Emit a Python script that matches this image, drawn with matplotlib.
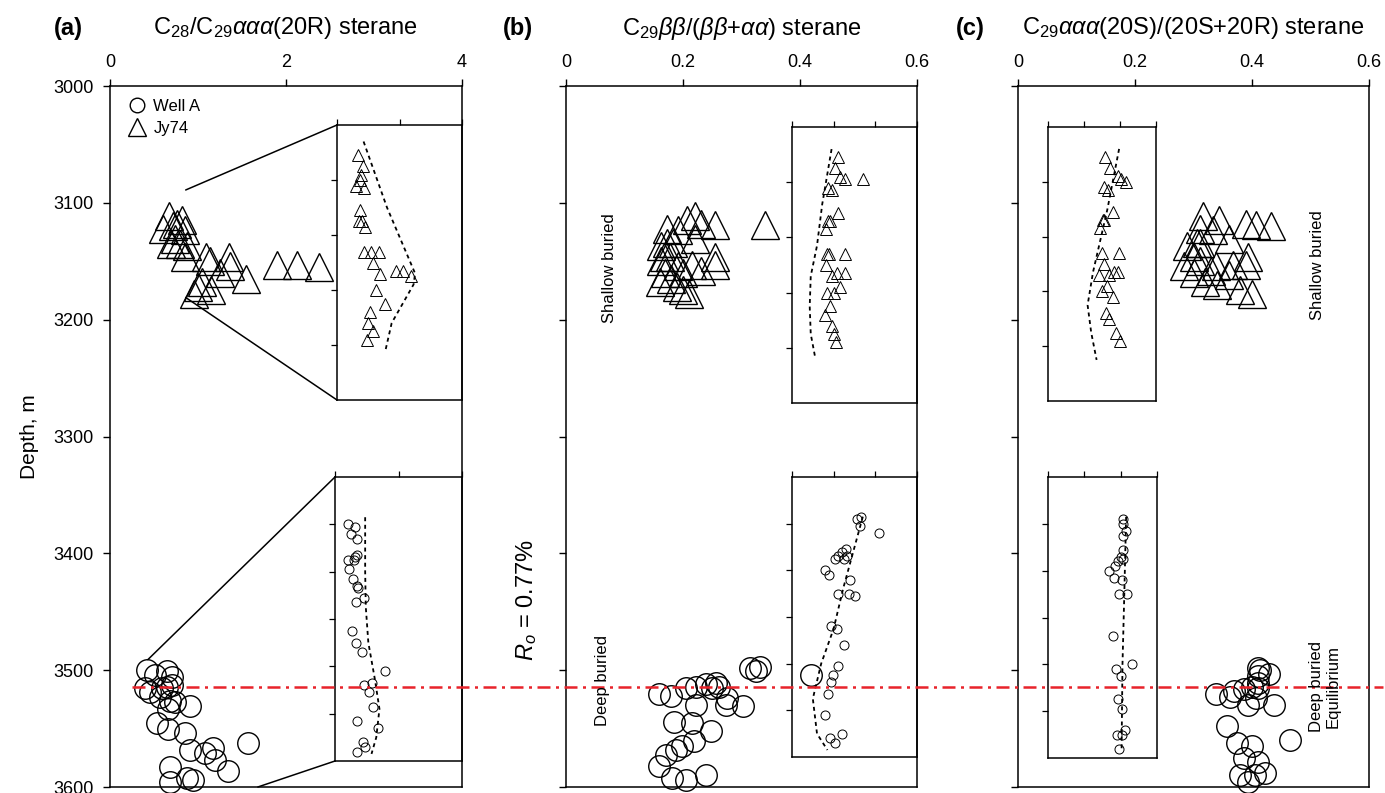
import matplotlib
matplotlib.use("Agg")
import matplotlib.pyplot as plt
from matplotlib.lines import Line2D
from matplotlib.patches import ConnectionPatch

plt.rcParams['font.family'] = ['Liberation Sans', 'DejaVu Sans']
plt.rcParams['mathtext.fontset'] = 'custom'
plt.rcParams['mathtext.rm'] = 'Liberation Sans'
plt.rcParams['mathtext.it'] = 'Liberation Sans:italic'
plt.rcParams['mathtext.bf'] = 'Liberation Sans:bold'

# ---------------- data ----------------
# (a) C28/C29 aaa(20R)
a_jy_val = [0.67, 0.82, 0.76, 0.72, 0.60, 0.85, 0.74, 0.69, 0.80, 0.88, 0.85, 1.09, 1.35,
            1.14, 1.36, 1.90, 2.12, 2.37, 1.25, 1.55, 1.05, 1.00, 0.95, 1.15]
a_jy_dep = [3111, 3115, 3118, 3120, 3122, 3123, 3131, 3135, 3135, 3137, 3146, 3146, 3146,
            3150, 3154, 3153, 3153, 3155, 3160, 3165, 3168, 3172, 3178, 3175]
a_wa_val = [0.417, 0.511, 0.644, 0.701, 0.398, 0.455, 0.588, 0.644, 0.701, 0.568, 0.682,
            0.739, 0.663, 0.909, 0.531, 0.659, 0.852, 0.909, 1.08, 1.17, 1.19, 1.34, 1.57,
            0.682, 0.682, 0.872, 0.943]
a_wa_dep = [3500, 3504, 3501, 3506, 3515, 3519, 3515, 3514, 3513, 3523, 3526, 3527, 3533,
            3531, 3545, 3550, 3554, 3568, 3571, 3567, 3577, 3586, 3562, 3583, 3596, 3592, 3594]
a_trend_top_val = [0.85, 1.6, 2.5, 2.45, 2.1, 1.75, 1.55]
a_trend_top_dep = [3106, 3130, 3154, 3158, 3165, 3172, 3182]
a_trend_bot_val = [0.95, 0.95, 0.97, 1.05, 1.25, 1.4, 1.3, 1.15]
a_trend_bot_dep = [3497, 3520, 3535, 3550, 3565, 3578, 3590, 3597]

# (b) C29 bb/(bb+aa)
b_jy_val = [0.221, 0.207, 0.231, 0.255, 0.341, 0.173, 0.192, 0.221, 0.183, 0.173, 0.163,
            0.168, 0.178, 0.255, 0.163, 0.192, 0.216, 0.255, 0.17, 0.20, 0.23, 0.18, 0.16,
            0.19, 0.21, 0.20]
b_jy_dep = [3111, 3115, 3118, 3119, 3119, 3122, 3123, 3131, 3134, 3134, 3137, 3146, 3146,
            3146, 3150, 3154, 3153, 3153, 3160, 3160, 3158, 3165, 3168, 3172, 3178, 3175]
b_wa_val = [0.159, 0.179, 0.205, 0.222, 0.240, 0.257, 0.262, 0.250, 0.276, 0.274, 0.302,
            0.222, 0.185, 0.216, 0.248, 0.219, 0.199, 0.188, 0.171, 0.159, 0.182, 0.205,
            0.240, 0.314, 0.331, 0.325, 0.418]
b_wa_dep = [3520, 3522, 3515, 3514, 3512, 3511, 3514, 3515, 3524, 3530, 3531, 3530, 3544,
            3545, 3552, 3561, 3565, 3568, 3573, 3582, 3592, 3594, 3590, 3498, 3497, 3501, 3504]
b_trend_top_val = [0.19, 0.145, 0.12, 0.09, 0.085, 0.09, 0.11]
b_trend_top_dep = [3108, 3128, 3143, 3154, 3165, 3175, 3183]
b_trend_bot_val = [0.34, 0.245, 0.20, 0.14, 0.10, 0.12, 0.17]
b_trend_bot_dep = [3497, 3528, 3545, 3560, 3575, 3590, 3597]

# (c) C29 aaa 20S/(20S+20R)
c_jy_val = [0.317, 0.344, 0.389, 0.406, 0.433, 0.311, 0.333, 0.361, 0.311, 0.306, 0.289,
            0.300, 0.394, 0.311, 0.339, 0.367, 0.389, 0.283, 0.30, 0.33, 0.36, 0.32, 0.38,
            0.40, 0.34]
c_jy_dep = [3111, 3115, 3118, 3119, 3120, 3122, 3123, 3131, 3134, 3134, 3137, 3146, 3146,
            3150, 3154, 3153, 3153, 3154, 3160, 3158, 3162, 3168, 3175, 3178, 3170]
c_wa_val = [0.411, 0.414, 0.429, 0.411, 0.411, 0.400, 0.411, 0.387, 0.369, 0.338, 0.363,
            0.407, 0.393, 0.437, 0.375, 0.400, 0.387, 0.410, 0.379, 0.405, 0.393, 0.422,
            0.465, 0.358]
c_wa_dep = [3498, 3500, 3503, 3505, 3511, 3514, 3515, 3516, 3518, 3520, 3523, 3524, 3530,
            3530, 3562, 3565, 3575, 3579, 3590, 3590, 3596, 3588, 3560, 3548]
c_trend_top_val = [0.395, 0.33, 0.25, 0.22, 0.24, 0.27]
c_trend_top_dep = [3108, 3130, 3153, 3165, 3175, 3185]
c_trend_bot_val = [0.43, 0.42, 0.41, 0.405]
c_trend_bot_dep = [3497, 3530, 3560, 3597]

ro_depth = 3514

titles = [r'C$_{28}$/C$_{29}$$\alpha\alpha\alpha$(20R) sterane',
          r'C$_{29}$$\beta\beta$/($\beta\beta$+$\alpha\alpha$) sterane',
          r'C$_{29}$$\alpha\alpha\alpha$(20S)/(20S+20R) sterane']
panel_tags = ['(a)', '(b)', '(c)']

# ---------------- layout ----------------
W, H = 1385, 793
fig = plt.figure(figsize=(W / 100, H / 100), dpi=100)


def px_axes(x0, y0, x1, y1):
    return fig.add_axes([x0 / W, 1 - y1 / H, (x1 - x0) / W, (y1 - y0) / H])


def style_main(ax, xmax, xticks, xlabels, ylabels):
    ax.set_xlim(0, xmax)
    ax.set_ylim(3600, 3000)
    ax.xaxis.tick_top()
    ax.set_xticks(xticks)
    ax.set_xticklabels(xlabels)
    ax.set_yticks(range(3000, 3601, 100))
    if not ylabels:
        ax.set_yticklabels([])
    ax.tick_params(axis='x', direction='out', length=5, width=1, pad=6, labelsize=13)
    ax.tick_params(axis='y', direction='out', length=5, width=1, pad=7, labelsize=13)
    for s in ax.spines.values():
        s.set_linewidth(1.1)


def style_inset(ax, xmax, xticks, ylim, yticks):
    ax.set_xlim(0, xmax)
    ax.set_ylim(*ylim)
    ax.patch.set_alpha(0)
    ax.xaxis.tick_top()
    ax.set_xticks(xticks)
    ax.set_xticklabels([])
    ax.set_yticks(yticks)
    ax.set_yticklabels([])
    ax.tick_params(direction='out', length=4, width=0.9)
    for s in ax.spines.values():
        s.set_linewidth(1.1)


mk = dict(linestyle='none', mfc='none', mec='black')
trend_kw = dict(color='black', lw=1.3, linestyle=(0, (2.2, 2.0)))

ax_a = px_axes(110, 86, 462, 787)
ax_b = px_axes(566, 86, 917, 787)
ax_c = px_axes(1018, 86, 1369, 787)

style_main(ax_a, 4, [0, 2, 4], ['0', '2', '4'], True)
style_main(ax_b, 0.6, [0, 0.2, 0.4, 0.6], ['0', '0.2', '0.4', '0.6'], False)
style_main(ax_c, 0.6, [0, 0.2, 0.4, 0.6], ['0', '0.2', '0.4', '0.6'], False)
ax_a.set_ylabel('Depth, m', fontsize=15, labelpad=10)

panels = [
    (ax_a, a_jy_val, a_jy_dep, a_wa_val, a_wa_dep),
    (ax_b, b_jy_val, b_jy_dep, b_wa_val, b_wa_dep),
    (ax_c, c_jy_val, c_jy_dep, c_wa_val, c_wa_dep),
]
for ax, jv, jd, wv, wd in panels:
    ax.plot(jv, jd, marker='^', ms=20, mew=1.0, clip_on=False, **mk)
    ax.plot(wv, wd, marker='o', ms=15.5, mew=1.0, clip_on=False, **mk)

# insets
ins_a_top = px_axes(337, 125, 462, 400)
ins_a_bot = px_axes(335, 477, 462, 761)
ins_b_top = px_axes(792, 127, 917, 403)
ins_b_bot = px_axes(792, 477, 917, 757)
ins_c_top = px_axes(1048, 127, 1156, 401)
ins_c_bot = px_axes(1048, 477, 1157, 758)

top_lim, top_ticks = (3200, 3100), [3120, 3140, 3160, 3180]
bot_lim, bot_ticks = (3600, 3480), [3500, 3520, 3540, 3560, 3580]

insets = [
    (ins_a_top, 4, [0, 2, 4], top_lim, top_ticks, a_jy_val, a_jy_dep, '^', a_trend_top_val, a_trend_top_dep),
    (ins_a_bot, 4, [0, 2, 4], bot_lim, bot_ticks, a_wa_val, a_wa_dep, 'o', a_trend_bot_val, a_trend_bot_dep),
    (ins_b_top, 0.6, [0, 0.2, 0.4, 0.6], top_lim, top_ticks, b_jy_val, b_jy_dep, '^', b_trend_top_val, b_trend_top_dep),
    (ins_b_bot, 0.6, [0, 0.2, 0.4, 0.6], bot_lim, bot_ticks, b_wa_val, b_wa_dep, 'o', b_trend_bot_val, b_trend_bot_dep),
    (ins_c_top, 0.6, [0, 0.2, 0.4, 0.6], top_lim, top_ticks, c_jy_val, c_jy_dep, '^', c_trend_top_val, c_trend_top_dep),
    (ins_c_bot, 0.6, [0, 0.2, 0.4, 0.6], bot_lim, bot_ticks, c_wa_val, c_wa_dep, 'o', c_trend_bot_val, c_trend_bot_dep),
]
for ax, xmax, xt, ylim, yt, v, d, m, tv, td in insets:
    style_inset(ax, xmax, xt, ylim, yt)
    ms = 8.3 if m == '^' else 6.5
    ax.plot(v, d, marker=m, ms=ms, mew=0.7, **mk)
    ax.plot(tv, td, **trend_kw)

# connectors from the (a) data clusters to their enlarged views
for xyA, xyB, inset in [((0.86, 3089), (0, 1), ins_a_top),
                        ((0.86, 3181), (0, 0), ins_a_top),
                        ((0.43, 3491), (0, 1), ins_a_bot),
                        ((1.68, 3600), (0, 0), ins_a_bot)]:
    con = ConnectionPatch(xyA=xyA, coordsA=ax_a.transData, xyB=xyB,
                          coordsB=inset.transAxes, color='black', lw=1.1)
    fig.add_artist(con)

# legend
handles = [Line2D([], [], marker='o', ms=10.5, mew=1.0, **mk),
           Line2D([], [], marker='^', ms=13.5, mew=1.0, **mk)]
ax_a.legend(handles, ['Well A', 'Jy74'], loc='upper left', bbox_to_anchor=(0.0, 1.008),
            frameon=False, fontsize=12, handlelength=1.0, handletextpad=0.5,
            labelspacing=0.45, borderpad=0.6)

# Ro = 0.77% level
y_ro = ax_a.transData.transform((0, ro_depth))[1] / (fig.dpi * fig.get_figheight())
fig.add_artist(Line2D([132 / W, 1383 / W], [y_ro, y_ro], transform=fig.transFigure,
                      color='#e8232b', lw=1.8, dashes=(5.2, 2.2, 1.2, 2.2)))

# titles and tags
for ax, title, tag, tagx in zip([ax_a, ax_b, ax_c], titles, panel_tags, [68, 518, 970]):
    bb = ax.get_position()
    fig.text((bb.x0 + bb.x1) / 2, 1 - 28 / H, title, ha='center', va='center', fontsize=17)
    fig.text(tagx / W, 1 - 28 / H, tag, ha='center', va='center', fontsize=17, fontweight='bold')

# annotations
fig.text(527 / W, 1 - 600 / H, r'$R_o$ = 0.77%', rotation=90, ha='center', va='center', fontsize=17)
fig.text(610 / W, 1 - 268 / H, 'Shallow buried', rotation=90, ha='center', va='center', fontsize=12)
fig.text(603 / W, 1 - 681 / H, 'Deep buried', rotation=90, ha='center', va='center', fontsize=12)
fig.text(1318 / W, 1 - 265 / H, 'Shallow buried', rotation=90, ha='center', va='center', fontsize=12)
fig.text(1325 / W, 1 - 686 / H, 'Deep buried\nEquilibrium', rotation=90, ha='center', va='center',
         multialignment='center', fontsize=12, linespacing=1.15)

fig.savefig('out.png', dpi=100)
